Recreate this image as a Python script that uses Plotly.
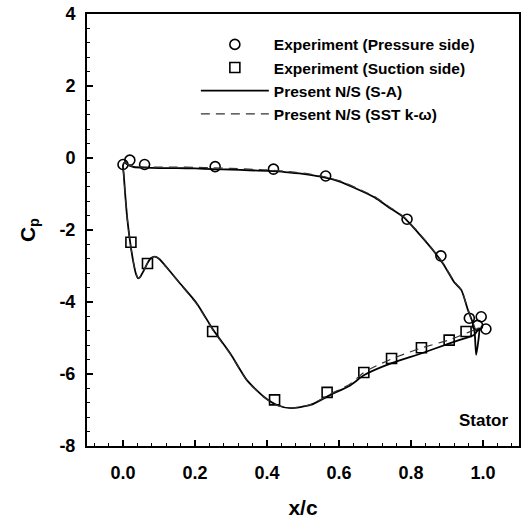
import plotly.graph_objects as go

# Experimental data
press_x = [0.000, 0.019, 0.060, 0.256, 0.418, 0.563, 0.789, 0.883, 0.962, 0.995, 1.008, 0.985]
press_cp = [-0.18, -0.06, -0.18, -0.24, -0.31, -0.50, -1.70, -2.72, -4.45, -4.41, -4.75, -4.65]

suct_x = [0.022, 0.068, 0.249, 0.421, 0.567, 0.669, 0.746, 0.829, 0.906, 0.953]
suct_cp = [-2.34, -2.93, -4.82, -6.72, -6.51, -5.96, -5.57, -5.27, -5.06, -4.82]

# Present N/S (S-A): loop from leading edge along pressure side to TE, then suction side back
sa_x = [0.000, 0.005, 0.015, 0.030, 0.060, 0.100, 0.150, 0.200, 0.250, 0.300, 0.350, 0.400,
        0.450, 0.500, 0.550, 0.600, 0.650, 0.700, 0.740, 0.780, 0.820, 0.860, 0.890, 0.920,
        0.940, 0.958, 0.972, 0.977, 0.981, 0.990, 0.984, 0.977, 0.968, 0.958, 0.907, 0.828,
        0.746, 0.670, 0.632, 0.576, 0.521, 0.465, 0.428, 0.391, 0.344, 0.298, 0.251, 0.205,
        0.158, 0.120, 0.100, 0.088, 0.078, 0.068, 0.058, 0.048, 0.042, 0.036, 0.028, 0.020,
        0.012, 0.006, 0.002, 0.000]
sa_cp = [-0.20, -0.12, -0.20, -0.25, -0.27, -0.28, -0.28, -0.29, -0.31, -0.32, -0.34, -0.36,
         -0.39, -0.44, -0.52, -0.65, -0.86, -1.10, -1.38, -1.65, -2.08, -2.55, -2.95, -3.45,
         -3.67, -4.22, -4.59, -4.87, -5.47, -4.73, -4.80, -4.90, -4.95, -4.98, -5.15, -5.43,
         -5.70, -6.03, -6.31, -6.58, -6.86, -6.95, -6.86, -6.63, -6.17, -5.43, -4.78, -4.04,
         -3.48, -3.02, -2.80, -2.74, -2.78, -2.92, -3.12, -3.30, -3.34, -3.22, -2.85, -2.35,
         -1.70, -1.00, -0.45, -0.20]

# Present N/S (SST k-omega)
sst_x = [0.000, 0.005, 0.015, 0.030, 0.060, 0.100, 0.150, 0.200, 0.250, 0.300, 0.350, 0.400,
         0.450, 0.500, 0.550, 0.600, 0.650, 0.700, 0.740, 0.780, 0.820, 0.860, 0.890, 0.920,
         0.940, 0.958, 0.972, 0.980, 0.990, 0.975, 0.955, 0.907, 0.828, 0.746, 0.670, 0.632,
         0.576, 0.521, 0.465, 0.428, 0.391, 0.344, 0.298, 0.251, 0.205, 0.158, 0.120, 0.100,
         0.088, 0.078, 0.068, 0.058, 0.048, 0.042, 0.036, 0.028, 0.020, 0.012, 0.006, 0.002,
         0.000]
sst_cp = [-0.20, -0.12, -0.19, -0.23, -0.25, -0.25, -0.25, -0.26, -0.27, -0.29, -0.31, -0.33,
          -0.37, -0.42, -0.50, -0.63, -0.84, -1.08, -1.36, -1.63, -2.06, -2.53, -2.93, -3.43,
          -3.66, -4.20, -4.57, -4.75, -4.70, -4.78, -4.86, -5.05, -5.28, -5.58, -5.95, -6.27,
          -6.56, -6.85, -6.95, -6.87, -6.64, -6.18, -5.45, -4.80, -4.06, -3.49, -3.03, -2.80,
          -2.74, -2.78, -2.92, -3.12, -3.30, -3.34, -3.22, -2.85, -2.35, -1.70, -1.00, -0.45,
          -0.20]

# Tick labels
x_tickvals = [0.0, 0.2, 0.4, 0.6, 0.8, 1.0]
x_ticktext = ["0.0", "0.2", "0.4", "0.6", "0.8", "1.0"]
y_tickvals = [-8, -6, -4, -2, 0, 2, 4]
y_ticktext = ["-8", "-6", "-4", "-2", "0", "2", "4"]

FONT = "Liberation Sans, Arial, sans-serif"

fig = go.Figure()
fig.add_trace(go.Scatter(
    x=press_x, y=press_cp, mode="markers", name="Experiment (Pressure side)",
    marker=dict(symbol="circle-open", size=10, color="black", line=dict(width=1.6))))
fig.add_trace(go.Scatter(
    x=suct_x, y=suct_cp, mode="markers", name="Experiment (Suction side)",
    marker=dict(symbol="square-open", size=10, color="black", line=dict(width=1.6))))
fig.add_trace(go.Scatter(
    x=sa_x, y=sa_cp, mode="lines", name="Present N/S (S-A)",
    line=dict(color="black", width=1.8, shape="spline", smoothing=0.6)))
fig.add_trace(go.Scatter(
    x=sst_x, y=sst_cp, mode="lines", name="Present N/S (SST k-\u03c9)",
    line=dict(color="#333333", width=1.2, dash="9px,6px", shape="spline", smoothing=0.6)))

axis_common = dict(
    showline=True, linecolor="black", linewidth=2, mirror=True,
    ticks="inside", ticklen=6, tickwidth=1.5, tickcolor="black",
    showgrid=False, zeroline=False, tickmode="array",
    tickfont=dict(family=FONT, size=18, color="black", weight="bold"),
)

fig.update_xaxes(
    range=[-0.1, 1.1], tickvals=x_tickvals, ticktext=x_ticktext,
    ticklabelstandoff=9,
    minor=dict(tickmode="linear", tick0=0, dtick=0.04, ticks="inside", ticklen=3,
               tickcolor="black", tickwidth=1),
    title=dict(text="x/c", font=dict(family=FONT, size=21, color="black", weight="bold"),
               standoff=19),
    **axis_common)
fig.update_yaxes(
    range=[-8, 4], tickvals=y_tickvals, ticktext=y_ticktext,
    ticklabelstandoff=6,
    minor=dict(tickmode="linear", tick0=0, dtick=0.4, ticks="inside", ticklen=3,
               tickcolor="black", tickwidth=1),
    title=dict(text="C<sub>p</sub>", font=dict(family=FONT, size=21, color="black", weight="bold"),
               standoff=18),
    **axis_common)

fig.add_annotation(
    x=1.0, y=0.0586, xref="paper", yref="paper", xanchor="right", yanchor="middle",
    text="Stator", showarrow=False, xshift=-8,
    font=dict(family=FONT, size=17, color="black", weight="bold"))

fig.update_layout(
    width=523, height=526,
    margin=dict(l=87, r=2, t=14, b=80),
    plot_bgcolor="white", paper_bgcolor="white",
    showlegend=True,
    legend=dict(
        x=0.252, y=0.968, xanchor="left", yanchor="top",
        bgcolor="rgba(0,0,0,0)", borderwidth=0, itemwidth=68,
        font=dict(family=FONT, size=15.5, color="black", weight="bold"),
        tracegroupgap=0,
    ),
)

fig.write_html("out.html")
